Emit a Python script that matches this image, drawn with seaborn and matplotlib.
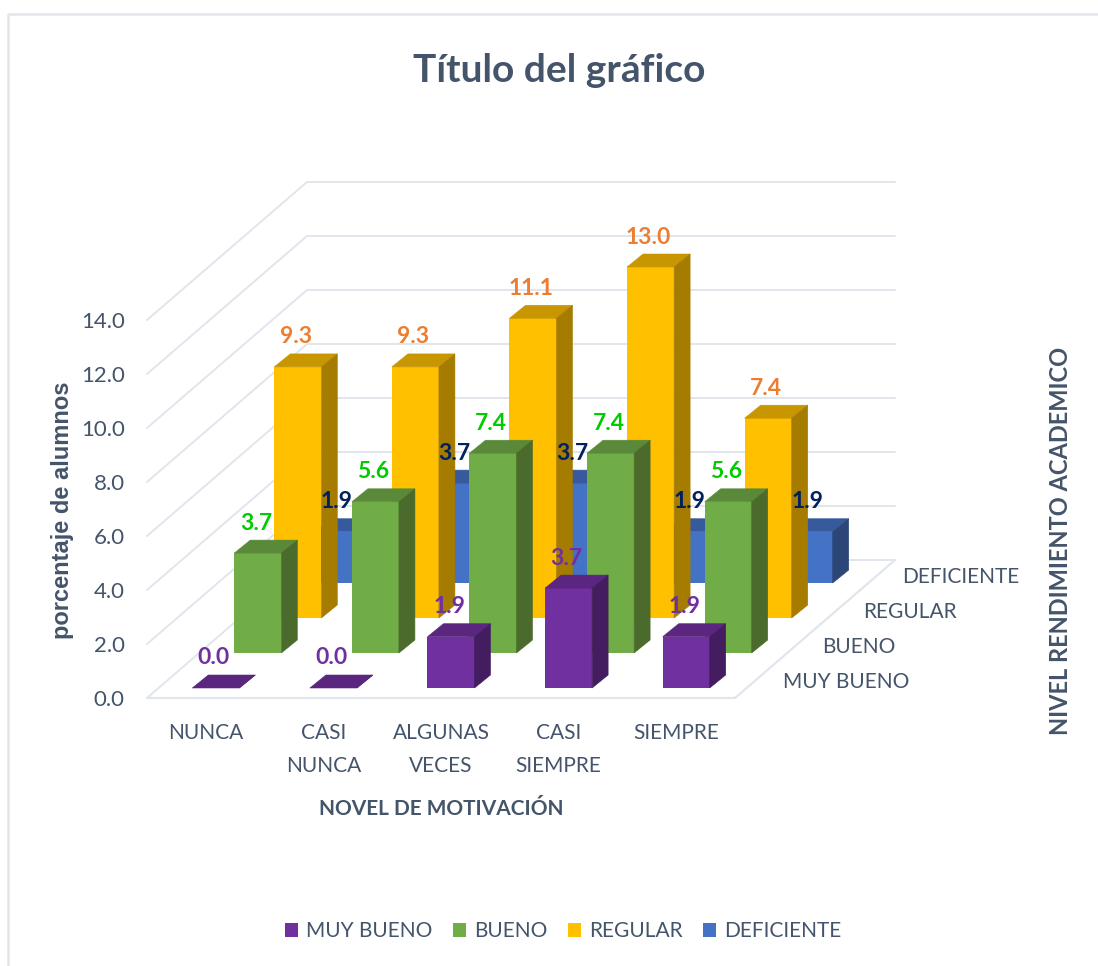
import matplotlib
matplotlib.use("Agg")
import matplotlib.pyplot as plt
from matplotlib.lines import Line2D
from matplotlib.patches import Patch, Polygon
import pandas as pd
import seaborn as sns

# ---------- data ----------
categorias = ["NUNCA", "CASI\nNUNCA", "ALGUNAS\nVECES", "CASI\nSIEMPRE", "SIEMPRE"]
series = ["MUY BUENO", "BUENO", "REGULAR", "DEFICIENTE"]
muy_bueno = [0.0, 0.0, 1.9, 3.7, 1.9]
bueno = [3.7, 5.6, 7.4, 7.4, 5.6]
regular = [9.3, 9.3, 11.1, 13.0, 7.4]
deficiente = [1.9, 3.7, 3.7, 1.9, 1.9]
yticks = [0, 2, 4, 6, 8, 10, 12, 14]

df = pd.DataFrame({
    "nivel": categorias * 4,
    "serie": [s for s in series for _ in categorias],
    "valor": muy_bueno + bueno + regular + deficiente,
})

# ---------- style ----------
W, H = 1098, 966
TXT = "#44546A"
GRID = "#E1E5EC"
front = {"MUY BUENO": "#7030A0", "BUENO": "#70AD47", "REGULAR": "#FFC000", "DEFICIENTE": "#4472C4"}
top = {"MUY BUENO": "#5A2680", "BUENO": "#5A8A39", "REGULAR": "#C79600", "DEFICIENTE": "#365A9C"}
side = {"MUY BUENO": "#431D60", "BUENO": "#4A6B2B", "REGULAR": "#A57C00", "DEFICIENTE": "#2C4677"}
lab_col = {"MUY BUENO": "#7030A0", "BUENO": "#00CC00", "REGULAR": "#ED7D31", "DEFICIENTE": "#002060"}

sns.set_theme(style="white")
plt.rcParams["font.family"] = ["Lato", "DejaVu Sans"]

fig = plt.figure(figsize=(W / 100, H / 100), dpi=100, facecolor="white")

# layout in pixels of the oblique projection
X0, Y0 = 147, 698
CAT_W, UNIT = 117.6, 27.0
WALL_DX, WALL_DY = 160 / CAT_W, 138 / UNIT
BAR_DX, BAR_DY = 16 / CAT_W, 13 / UNIT
shift = {"MUY BUENO": (10, 10), "BUENO": (52, 45), "REGULAR": (92, 80), "DEFICIENTE": (133, 115)}


def axes_at(sx=0, sy=0, z=1):
    ax = fig.add_axes([(X0 + sx) / W, (H - Y0 + sy) / H, 5 * CAT_W / W, 14 * UNIT / H])
    ax.set_zorder(z)
    ax.patch.set_alpha(0)
    return ax


# ---------- walls and floor ----------
base = axes_at(z=0)
base.set_xlim(-0.5, 4.5)
base.set_ylim(0, 14)
L, R = -0.5, 4.5
for v in yticks:
    base.plot([L, L + WALL_DX, R + WALL_DX], [v, v + WALL_DY, v + WALL_DY],
              color=GRID, lw=1.4, clip_on=False, solid_joinstyle="miter")
base.plot([L, R, R + WALL_DX], [0, 0, WALL_DY], color=GRID, lw=1.6, clip_on=False)
sns.despine(ax=base, left=True, bottom=True, top=True, right=True)
base.set_yticks(yticks)
base.set_yticklabels([f"{v:.1f}" for v in yticks], color=TXT, fontsize=16)
base.set_xticks(range(5))
base.set_xticklabels(categorias, color=TXT, fontsize=15, linespacing=1.83)
base.tick_params(axis="y", length=0, pad=16)
base.tick_params(axis="x", length=0, pad=18)
base.set_xlabel("")
base.set_ylabel("")

# ---------- bars (back row first) ----------
for i, s in enumerate(reversed(series)):
    sx, sy = shift[s]
    ax = axes_at(sx, sy, z=i + 1)
    sns.barplot(data=df[df["serie"] == s], x="nivel", y="valor", order=categorias,
                color=front[s], saturation=1, width=0.4, linewidth=0, edgecolor="none", ax=ax)
    ax.set_xlim(-0.5, 4.5)
    ax.set_ylim(0, 14)
    ax.axis("off")
    for p in list(ax.patches):
        x, w, h = p.get_x(), p.get_width(), p.get_height()
        ax.add_patch(Polygon([(x, h), (x + w, h), (x + w + BAR_DX, h + BAR_DY), (x + BAR_DX, h + BAR_DY)],
                             closed=True, fc=top[s], ec=top[s], lw=0.4, clip_on=False))
        ax.add_patch(Polygon([(x + w, 0), (x + w + BAR_DX, BAR_DY), (x + w + BAR_DX, h + BAR_DY), (x + w, h)],
                             closed=True, fc=side[s], ec=side[s], lw=0.4, clip_on=False))

# ---------- data labels on top of everything ----------
lab = axes_at(z=10)
lab.set_xlim(-0.5, 4.5)
lab.set_ylim(0, 14)
lab.axis("off")
for s in series:
    sx, sy = shift[s]
    sub = df[df["serie"] == s]
    for j, v in enumerate(sub["valor"]):
        lab.text(j + (sx - 2) / CAT_W, v + (sy + 30) / UNIT, f"{v:.1f}", color=lab_col[s],
                 fontsize=16.5, fontweight="bold", ha="center", va="center", clip_on=False)


def px_text(x, y, t, **kw):
    fig.text(x / W, 1 - y / H, t, **kw)


# ---------- depth axis labels ----------
for s, x, y in zip(series, [783, 822, 863, 902], [682, 647, 612, 577]):
    px_text(x, y, s, color=TXT, fontsize=15, ha="left", va="center")

# ---------- titles ----------
px_text(559, 70, "Título del gráfico", color=TXT, fontsize=28, fontweight="bold", ha="center", va="center")
px_text(441, 809, "NOVEL DE MOTIVACIÓN", color=TXT, fontsize=15, fontweight="bold", ha="center", va="center")
px_text(62, 510, "porcentaje de alumnos", color=TXT, fontsize=17, fontweight="bold", rotation=90,
        ha="center", va="center", family=["Liberation Sans", "DejaVu Sans"])
px_text(1060, 541, "NIVEL RENDIMIENTO ACADEMICO", color=TXT, fontsize=17, fontweight="bold", rotation=90,
        ha="center", va="center")

# ---------- legend ----------
handles = [Patch(fc=front[s], ec="none", label=s) for s in series]
fig.legend(handles=handles, loc="center", bbox_to_anchor=(563 / W, 1 - 931 / H), ncol=4, frameon=False,
           fontsize=15, labelcolor=TXT, handlelength=0.62, handleheight=0.68, handletextpad=0.38,
           columnspacing=1.0, borderpad=0)

# ---------- chart frame ----------
fig.add_artist(Line2D([8 / W, 8 / W, 1], [0, 1 - 14 / H, 1 - 14 / H], color="#E1E5EC", lw=1.8,
                      transform=fig.transFigure))

fig.savefig("out.png", dpi=100, facecolor="white")
